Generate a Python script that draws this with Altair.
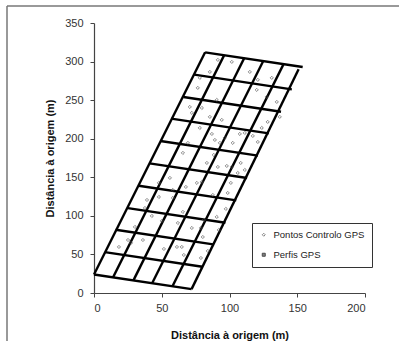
import altair as alt
import pandas as pd

# Survey grid ("Perfis GPS"): end points of each profile line (m)
h_x1 = [0, 8, 16, 25, 33, 41, 49, 57, 66, 74, 82]
h_y1 = [24, 53, 82, 110, 139, 168, 197, 226, 254, 283, 312]
h_x2 = [72, 80, 88, 97, 105, 113, 121, 129, 138, 146, 154]
h_y2 = [5, 34, 63, 91, 120, 149, 178, 207, 235, 264, 293]

v_x1 = [0, 14, 29, 43, 58, 72]
v_y1 = [24, 20, 16, 13, 9, 5]
v_x2 = [82, 96, 111, 125, 140, 151]
v_y2 = [312, 308, 305, 301, 297, 290]

# Control points ("Pontos Controlo GPS")
cp_x = [18.4, 25.1, 27.3, 30.2, 36.1, 39.1, 42.7, 47.9, 50.1, 51.6, 61.9, 61.2, 64.8, 66.3,
        65.6, 67.8, 72.2, 78.9, 80.3, 78.9, 84.0, 90.6, 92.1, 89.2, 92.9, 96.5, 102.4, 107.6,
        111.3, 117.2, 120.9, 87.0, 88.4, 83.3, 91.4, 98.0, 101.7, 106.1, 111.3, 79.6, 101.0,
        98.7, 87.7, 97.3, 69.3, 65.6, 47.9, 56.0, 58.2, 75.9, 37.6, 58.2, 91.4, 85.5, 78.1,
        76.6, 90.6, 70.7, 79.6, 85.5, 94.3, 72.2, 78.1, 115.0, 120.9, 131.2, 120.1, 127.5,
        134.9, 137.1, 128.2, 101.7, 123.8, 108.3, 81.1]
cp_y = [59.7, 68.7, 64.9, 85.6, 68.7, 120.6, 99.9, 124.5, 93.4, 57.1, 90.8, 59.7, 59.7, 49.3,
        105.1, 137.5, 84.3, 84.3, 72.6, 45.4, 54.5, 98.6, 81.7, 198.4, 194.6, 201.0, 194.6, 206.2,
        207.5, 203.6, 195.8, 206.2, 179.0, 168.6, 163.4, 164.7, 163.4, 155.6, 159.5, 144.0, 142.7,
        129.7, 127.1, 109.0, 194.6, 181.6, 142.7, 149.2, 133.6, 142.7, 110.2, 123.2, 302.2, 286.6, 278.9,
        265.9, 250.3, 241.2, 239.9, 228.3, 224.4, 233.5, 214.0, 286.6, 276.3, 278.9, 263.3, 254.2,
        247.7, 228.3, 221.8, 299.6, 214.0, 168.6, 94.7]

x_ticks = [0, 50, 100, 150, 200]
y_ticks = [0, 50, 100, 150, 200, 250, 300, 350]

series = ["Pontos Controlo GPS", "Perfis GPS"]

segs = pd.DataFrame({
    "x": h_x1 + v_x1,
    "y": h_y1 + v_y1,
    "x2": h_x2 + v_x2,
    "y2": h_y2 + v_y2,
})
pts = pd.DataFrame({"x": cp_x, "y": cp_y, "s": [series[0]] * len(cp_x)})

xscale = alt.Scale(domain=[0, 200], nice=False, zero=False)
yscale = alt.Scale(domain=[0, 350], nice=False, zero=False)
title = "Distância à origem (m)"

xax = alt.Axis(values=x_ticks, title=title, grid=False, titlePadding=16,
               labelPadding=5, labelOverlap=False, tickCount=5)
yax = alt.Axis(values=y_ticks, title=title, grid=False,
               titlePadding=9, labelPadding=7, labelOverlap=False, tickCount=8)

lines = alt.Chart(segs).mark_rule(color="black", strokeWidth=2.4).encode(
    x=alt.X("x:Q", scale=xscale, axis=xax),
    y=alt.Y("y:Q", scale=yscale, axis=yax),
    x2="x2:Q",
    y2="y2:Q",
)


def leg():
    return alt.Legend(title=None, orient="none", legendX=158, legendY=200,
                      padding=7, rowPadding=9, strokeColor="#333",
                      fillColor="white", labelFontSize=9.5, symbolSize=9,
                      labelOffset=5, labelColor="#222",
                      labelFont="Liberation Sans", symbolStrokeWidth=1)


points = alt.Chart(pts).mark_point(size=10, strokeWidth=1, filled=False).encode(
    x=alt.X("x:Q", scale=xscale, axis=xax),
    y=alt.Y("y:Q", scale=yscale, axis=yax),
    shape=alt.Shape("s:N", scale=alt.Scale(domain=series, range=["diamond", "square"]),
                    legend=leg()),
    stroke=alt.Stroke("s:N", scale=alt.Scale(domain=series, range=["#555555", "#000000"]),
                      legend=leg()),
    fill=alt.Fill("s:N", scale=alt.Scale(domain=series, range=["transparent", "#000000"]),
                  legend=leg()),
)

frame_df = pd.DataFrame({"k": [0]})
frame_top = alt.Chart(frame_df).mark_rule(color="#777777", strokeWidth=1.5).encode(
    x=alt.value(-87), x2=alt.value(305), y=alt.value(-17))
frame_left = alt.Chart(frame_df).mark_rule(color="#777777", strokeWidth=1.5).encode(
    x=alt.value(-87), y=alt.value(-17), y2=alt.value(318))

chart = alt.layer(lines, points, frame_top, frame_left).properties(
    width=271, height=270,
    autosize=alt.AutoSizeParams(type="none"),
    padding={"left": 94, "top": 23, "right": 34, "bottom": 48},
    background="white",
).configure_view(stroke="transparent").configure_axis(
    labelFont="Liberation Sans", labelFontSize=11, labelColor="#333",
    titleFont="Liberation Sans", titleFontSize=11, titleFontWeight="bold", titleColor="#111",
    domainColor="#444", tickColor="#444", tickSize=4, domainWidth=1.2, labelOverlap=False,
)

chart.save("out.html", embed_options={"renderer": "svg", "actions": False})
